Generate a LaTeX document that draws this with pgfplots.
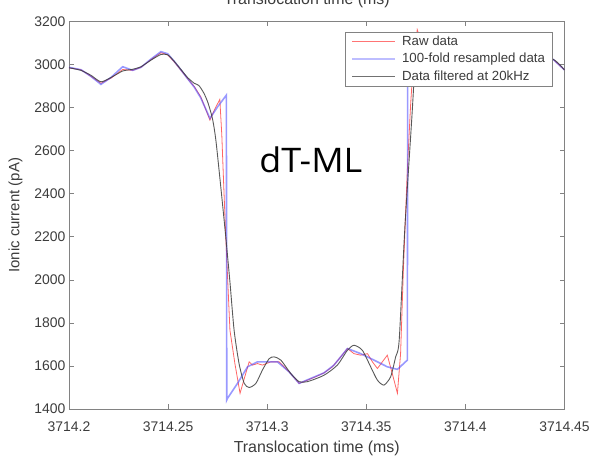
\documentclass[border=0pt]{standalone}
\usepackage{fontspec}
\setmainfont{Liberation Sans}
\newfontfamily\tagfont{Open Sans}[FakeStretch=1.06]
\usepackage{pgfplots}
\pgfplotsset{compat=1.18}

\definecolor{rawred}{RGB}{255,50,50}
\definecolor{rawkey}{RGB}{255,70,70}
\definecolor{resblue}{RGB}{70,70,255}
\definecolor{reskey}{RGB}{135,135,255}
\definecolor{filtgray}{RGB}{60,60,60}
\definecolor{filtkey}{RGB}{89,89,89}
\definecolor{axgray}{RGB}{130,130,130}
\definecolor{txtgray}{RGB}{60,60,60}

\tikzset{
  rawline/.style={color=rawred, draw=rawred, draw opacity=0.75, line width=0.8bp},
  resline/.style={color=resblue, draw=resblue, draw opacity=0.55, line width=1.6bp},
  filtline/.style={color=filtgray, draw=filtgray, draw opacity=0.85, line width=0.9bp},
}

% times are given in ms after 3714.2 ms
\begin{document}
\begin{tikzpicture}
\begin{axis}[
  name=ax,
  at={(0,0)}, anchor=south west,
  scale only axis, width=495.5bp, height=387.5bp,
  xmin=0, xmax=0.25, ymin=1400, ymax=3200,
  xtick={0,0.05,0.1,0.15,0.2,0.25},
  xticklabels={3714.2,3714.25,3714.3,3714.35,3714.4,3714.45},
  ytick={1400,1600,...,3200},
  /pgf/number format/1000 sep={},
  /pgf/number format/assume math mode=true,
  scaled ticks=false,
  tick pos=both, tick align=inside,
  major tick length=5bp,
  axis line style={axgray, line width=0.7bp},
  tick style={axgray, line width=0.6bp},
  ticklabel style={font=\fontsize{14}{16}\selectfont, text=txtgray},
  xticklabel style={anchor=base, yshift=-22.7bp},
  xlabel={Translocation time (ms)},
  ylabel={Ionic current (pA)},
  xlabel style={at={([yshift=-43bp]axis description cs:0.5,0)}, anchor=base,
    font=\fontsize{16}{18}\selectfont, text=txtgray},
  ylabel style={at={([xshift=-49.5bp]axis description cs:0,0.5)}, anchor=base,
    font=\fontsize{15}{18}\selectfont, text=txtgray},
  legend cell align=left,
  legend style={at={(0.976,0.972)}, anchor=north east,
    draw=axgray, fill=white,
    font=\fontsize{13.3}{15}\selectfont, text=txtgray,
    inner xsep=5.7bp, inner ysep=1.2bp,
    /tikz/column sep=4bp, /tikz/row sep=1.3bp,
    nodes={inner sep=1.7bp, text height=9.8bp, text depth=3bp}},
  clip=true,
]
% raw samples
\addplot[rawline,
  legend image code/.code={\draw[color=rawkey, draw=rawkey, line width=1bp] (0bp,0bp) -- (43bp,0bp);}] table {
t I
0.0000 2985
0.0060 2976
0.0111 2945
0.0161 2913
0.0212 2937
0.0271 2977
0.0321 2973
0.0363 2987
0.0413 3023
0.0464 3055
0.0498 3045
0.0531 3012
0.0565 2973
0.0598 2935
0.0632 2898
0.0665 2850
0.0711 2742
0.0736 2794
0.0761 2838
0.0771 2672
0.0781 2430
0.0791 2199
0.0812 1766
0.0837 1611
0.0863 1473
0.0887 1550
0.0909 1619
0.0926 1604
0.0951 1611
0.0976 1604
0.1018 1619
0.1060 1619
0.1110 1573
0.1161 1519
0.1203 1534
0.1245 1550
0.1287 1568
0.1329 1596
0.1371 1642
0.1405 1681
0.1438 1657
0.1472 1650
0.1506 1657
0.1531 1619
0.1556 1588
0.1581 1619
0.1606 1650
0.1631 1565
0.1657 1473
0.1673 1657
0.1687 2045
0.1707 2510
0.1724 2820
0.1735 2975
0.1757 3162
0.1774 3115
0.1799 3060
0.1825 3020
0.1875 2985
0.1925 2990
0.2026 3020
0.2177 3045
0.2329 3040
0.2443 3024
0.2500 2975
};
\addlegendentry{Raw data}
% resampled trace
\addplot[resline,
  legend image code/.code={\draw[color=reskey, draw=reskey, line width=2.2bp] (0bp,0bp) -- (43bp,0bp);}] table {
t I
0.0000 2987
0.0060 2976
0.0111 2945
0.0161 2908
0.0212 2940
0.0271 2990
0.0321 2973
0.0363 2987
0.0413 3025
0.0464 3060
0.0498 3050
0.0531 3015
0.0565 2975
0.0598 2935
0.0632 2895
0.0665 2845
0.0711 2750
0.0751 2805
0.0794 2858
0.0796 1442
0.0800 1450
0.0850 1519
0.0901 1596
0.0951 1619
0.1002 1619
0.1052 1619
0.1110 1573
0.1161 1519
0.1220 1542
0.1287 1568
0.1337 1604
0.1405 1681
0.1472 1657
0.1539 1627
0.1606 1596
0.1657 1584
0.1707 1627
0.1709 3080
0.1749 3100
0.1799 3050
0.1875 2990
0.1975 2995
0.2127 3030
0.2278 3045
0.2443 3024
0.2500 2975
};
\addlegendentry{100-fold resampled data}
% low-pass filtered trace
\addplot[filtline, smooth, tension=0.4,
  legend image code/.code={\draw[color=filtkey, draw=filtkey, line width=0.9bp] (0bp,0bp) -- (43bp,0bp);}] table {
t I
0.0000 2985
0.0060 2973
0.0111 2950
0.0161 2920
0.0212 2940
0.0271 2970
0.0321 2978
0.0363 2990
0.0413 3020
0.0464 3047
0.0498 3045
0.0531 3015
0.0565 2977
0.0598 2940
0.0632 2913
0.0655 2903
0.0680 2868
0.0701 2823
0.0724 2748
0.0741 2649
0.0766 2430
0.0791 2199
0.0812 1990
0.0833 1766
0.0858 1611
0.0884 1519
0.0909 1500
0.0943 1519
0.0976 1581
0.1010 1634
0.1035 1642
0.1069 1627
0.1119 1565
0.1161 1527
0.1203 1527
0.1287 1557
0.1354 1604
0.1405 1673
0.1438 1696
0.1480 1673
0.1522 1596
0.1556 1534
0.1589 1511
0.1623 1550
0.1648 1642
0.1666 1720
0.1694 2232
0.1729 2742
0.1754 3105
0.1780 3115
0.1825 3060
0.1875 3000
0.1950 2985
0.2050 3015
0.2200 3040
0.2330 3040
0.2443 3024
0.2500 2975
};
\addlegendentry{Data filtered at 20kHz}
\node[anchor=base, font=\tagfont\fontsize{34}{38}\selectfont, text=black]
  at (axis cs:0.122,2500) {dT-ML};
\end{axis}
\node[overlay, anchor=base, font=\fontsize{16}{18}\selectfont, text=txtgray]
  at ([xshift=-10bp, yshift=17bp]ax.north) {Translocation time (ms)};
\pgfresetboundingbox
\path[use as bounding box] ([shift={(-69bp,-47bp)}]ax.south west)
  rectangle ([shift={(30.5bp,21.5bp)}]ax.north east);
\end{tikzpicture}
\end{document}
